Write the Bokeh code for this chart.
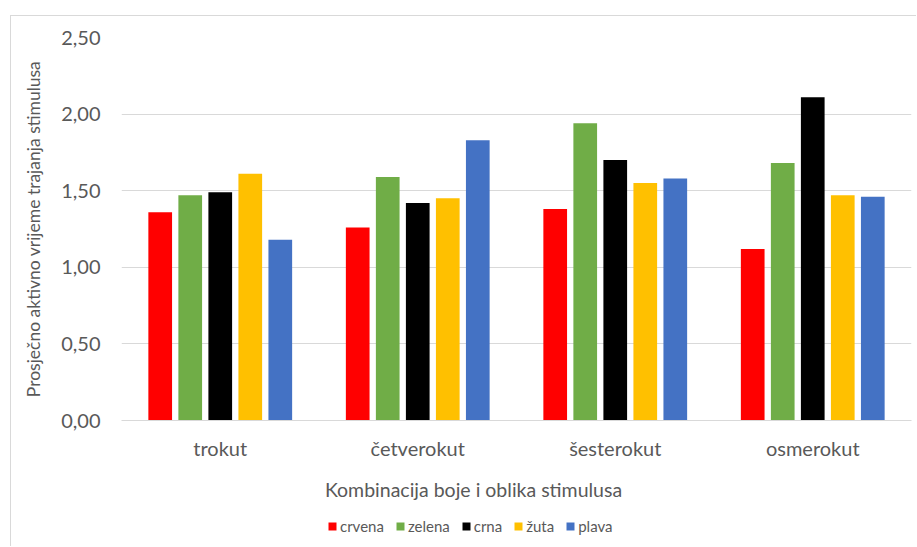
from bokeh.plotting import figure
from bokeh.layouts import column
from bokeh.models import (FactorRange, FixedTicker, CustomJSTickFormatter, Legend,
                          LegendItem, Label, ColumnDataSource, Range1d)
from bokeh.transform import dodge
from bokeh.embed import file_html
from bokeh.resources import INLINE

# ---- data ----
categories = ["trokut", "četverokut", "šesterokut", "osmerokut"]
series_names = ["crvena", "zelena", "crna", "žuta", "plava"]
crvena = [1.36, 1.26, 1.38, 1.12]
zelena = [1.47, 1.59, 1.94, 1.68]
crna = [1.49, 1.42, 1.70, 2.11]
zuta = [1.61, 1.45, 1.55, 1.47]
plava = [1.18, 1.83, 1.58, 1.46]
y_ticks = [0, 0.5, 1.0, 1.5, 2.0, 2.5]
y_title = "Prosječno aktivno vrijeme trajanja stimulusa"
x_title = "Kombinacija boje i oblika stimulusa"

colors = ["#FF0000", "#70AD47", "#000000", "#FFC000", "#4472C4"]
FONT = "Lato"
TXT = "#595959"

source = ColumnDataSource(dict(cat=categories, crvena=crvena, zelena=zelena,
                               crna=crna, zuta=zuta, plava=plava))
cols = ["crvena", "zelena", "crna", "zuta", "plava"]

# ---- main chart ----
p = figure(x_range=FactorRange(*categories), y_range=Range1d(0, 2.5),
           width=905, height=450, output_backend="svg", toolbar_location=None,
           min_border_left=110, min_border_right=5, min_border_top=21,
           min_border_bottom=46)
p.outline_line_color = None

step = 0.152
for i, (c, col) in enumerate(zip(cols, colors)):
    p.vbar(x=dodge("cat", (i - 2) * step, range=p.x_range), top=c, width=0.12,
           source=source, fill_color=col, line_color=None)

p.xgrid.grid_line_color = None
p.ygrid.grid_line_color = "#d9d9d9"
p.ygrid.ticker = FixedTicker(ticks=y_ticks)

p.yaxis.ticker = FixedTicker(ticks=y_ticks)
p.yaxis.formatter = CustomJSTickFormatter(code="return tick.toFixed(2).replace('.', ',');")
p.yaxis.axis_line_color = None
p.yaxis.major_tick_line_color = None
p.yaxis.minor_tick_line_color = None
p.yaxis.major_label_standoff = 15
p.yaxis.major_label_text_font = FONT
p.yaxis.major_label_text_font_size = "20px"
p.yaxis.major_label_text_color = TXT
p.yaxis.axis_label = y_title
p.yaxis.axis_label_text_font = FONT
p.yaxis.axis_label_text_font_size = "17.5px"
p.yaxis.axis_label_text_font_style = "normal"
p.yaxis.axis_label_text_color = TXT
p.yaxis.axis_label_standoff = 14

p.xaxis.axis_line_color = "#d9d9d9"
p.xaxis.major_tick_line_color = None
p.xaxis.minor_tick_line_color = None
p.xaxis.major_label_standoff = 9
p.xaxis.major_label_text_font = FONT
p.xaxis.major_label_text_font_size = "20px"
p.xaxis.major_label_text_color = TXT

# ---- strip below: x-axis title and legend (frame aligned with main frame) ----
p2 = figure(width=905, height=80, output_backend="svg", toolbar_location=None,
            x_range=Range1d(0, 1), y_range=Range1d(0, 1), min_border=0,
            x_axis_type=None, y_axis_type=None)
p2.grid.visible = False
p2.outline_line_color = None

p2.add_layout(Label(x=352, y=57, x_units="screen", y_units="screen", text=x_title,
                    text_align="center", text_baseline="middle", text_font=FONT,
                    text_font_size="19.5px", text_color=TXT))

items = []
for c, name, col in zip(cols, series_names, colors):
    # zero-size proxies (same data) used only for the legend swatches
    r = p2.vbar(x=0.5, top=0, bottom=0, width=0, source=source,
                fill_color=col, line_color=None)
    items.append(LegendItem(label=name, renderers=[r]))

legend = Legend(items=items, orientation="horizontal", location=(206, 11),
                padding=0, margin=0, spacing=11, label_standoff=3,
                glyph_width=10, glyph_height=10, border_line_color=None,
                background_fill_alpha=0, label_text_font=FONT,
                label_text_font_size="15px", label_text_color=TXT)
p2.add_layout(legend, "center")

layout = column(p, p2, margin=(15, 0, 0, 10),
                styles={"border-top": "1px solid #d9d9d9",
                        "border-left": "1px solid #d9d9d9"})

open("out.html", "w").write(file_html(layout, INLINE))
